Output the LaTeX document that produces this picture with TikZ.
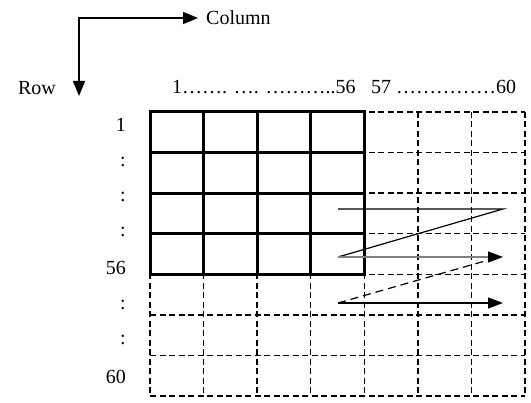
\documentclass[tikz,border=0pt]{standalone}
\usepackage{fontspec}
\setmainfont{Liberation Serif}
\usetikzlibrary{arrows.meta}
\begin{document}
\begin{tikzpicture}[x=1pt,y=-1pt,
	lbl/.style={ inner sep=0pt, font=\fontsize{20}{23}\selectfont },
	rowlbl/.style={ lbl, anchor=east },
	cell/.style={ line width=1.5pt, dash pattern=on 6pt off 3.5pt },
	block/.style={ line width=3pt, line cap=rect },
	dir/.style={ line width=1.6pt, {Triangle[length=15pt,width=12pt]}-{Triangle[length=15pt,width=12pt]} },
	scan/.style={ line width=1.2pt },
	scanto/.style={ scan, -{Triangle[length=15pt,width=11pt,color=black]} }
]
	\useasboundingbox (0,0) rectangle (531,403);
	% orientation arrows
	\node at (206,18) (col) [lbl,anchor=west] {Column};
	\node at (37,88) (row) [lbl] {Row};
	\coordinate (down) at (79,96);
	\draw[dir] (down) |- ([xshift=-8pt]col.west);
	% column numbers
	\node at (172,87) (c1) [lbl,anchor=west] {1……. …. ………..56};
	\node at (371,87) (c2) [lbl,anchor=west] {57 ……………60};
	% row numbers
	\node at (126,125) (r1) [rowlbl] {1};
	\node at (126,162) (r2) [rowlbl] {:};
	\node at (126,197) (r3) [rowlbl] {:};
	\node at (126,232) (r4) [rowlbl] {:};
	\node at (126,268) (r56) [rowlbl] {56};
	\node at (126,305) (r5) [rowlbl] {:};
	\node at (126,340) (r6) [rowlbl] {:};
	\node at (126,377) (r60) [rowlbl] {60};
	% grid 60 x 60
	\foreach \i in {0,...,7} {
		\draw[cell] (150+\i*53.57,112) -- (150+\i*53.57,396);
		\draw[cell] (150,112+\i*40.57) -- (525,112+\i*40.57);
	}
	% block 56 x 56
	\foreach \i in {0,...,4} {
		\draw[block] (150+\i*53.57,112) -- (150+\i*53.57,274.3);
		\draw[block] (150,112+\i*40.57) -- (364.3,112+\i*40.57);
	}
	% scan order
	\coordinate (a) at (338,209);
	\coordinate (b) at (503,209);
	\coordinate (c) at (338,257);
	\coordinate (d) at (503,257);
	\coordinate (e) at (338,303);
	\coordinate (f) at (503,303);
	\draw[scan] (a) -- (b) -- (c);
	\draw[scanto,black!50] (c) -- (d);
	\draw[scan,dash pattern=on 8pt off 5pt] (e) -- ([xshift=-4pt]d);
	\draw[scanto] (e) -- (f);
\end{tikzpicture}
\end{document}
